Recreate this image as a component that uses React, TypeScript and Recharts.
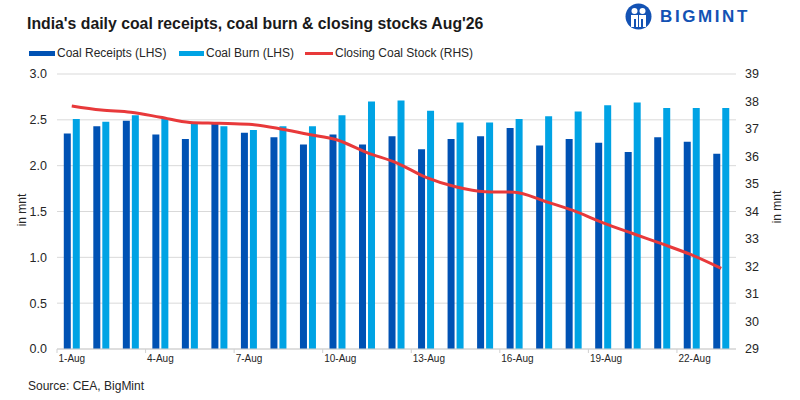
import { ComposedChart, Bar, Line, XAxis, YAxis, CartesianGrid } from 'recharts'

const categories = [
  '1-Aug', '2-Aug', '3-Aug', '4-Aug', '5-Aug', '6-Aug', '7-Aug', '8-Aug', '9-Aug', '10-Aug', '11-Aug', '12-Aug',
  '13-Aug', '14-Aug', '15-Aug', '16-Aug', '17-Aug', '18-Aug', '19-Aug', '20-Aug', '21-Aug', '22-Aug', '23-Aug',
]
const coalReceipts = [
  2.35, 2.43, 2.49, 2.34, 2.29, 2.46, 2.36, 2.31, 2.23, 2.34, 2.23, 2.32,
  2.18, 2.29, 2.32, 2.41, 2.22, 2.29, 2.25, 2.15, 2.31, 2.26, 2.13,
]
const coalBurn = [
  2.51, 2.48, 2.55, 2.52, 2.47, 2.43, 2.39, 2.43, 2.43, 2.55, 2.7, 2.71,
  2.6, 2.47, 2.47, 2.51, 2.54, 2.59, 2.66, 2.69, 2.63, 2.63, 2.63,
]
const closingStock = [
  37.84, 37.69, 37.61, 37.43, 37.24, 37.21, 37.17, 37.02, 36.81, 36.6, 36.14, 35.77,
  35.24, 34.9, 34.72, 34.7, 34.38, 34.03, 33.59, 33.2, 32.82, 32.42, 31.93,
]
const leftTicks = [0, 0.5, 1, 1.5, 2, 2.5, 3]
const rightTicks = [29, 30, 31, 32, 33, 34, 35, 36, 37, 38, 39]

const data = categories.map((day, i) => ({
  day,
  receipts: coalReceipts[i],
  burn: coalBurn[i],
  stock: closingStock[i],
}))

const DARK = '#0052b4'
const LIGHT = '#00a3e4'
const RED = '#e8393a'
const TEXT = '#262626'
const SANS = '"Liberation Sans", Arial, sans-serif'

const PLOT_LEFT = 57
const PLOT_RIGHT = 736
const BAND = (PLOT_RIGHT - PLOT_LEFT) / categories.length

// Excel-style: tick mark on the category's left edge, label just right of it
function DayTick({ x, y, payload }: any) {
  const left = x - BAND / 2
  return (
    <g>
      <line x1={left} x2={left} y1={y} y2={y + 4} stroke="#d0d0d0" />
      <text x={left + 1.5} y={y + 13} fontSize={10} fontFamily={SANS} fill={TEXT}>
        {payload.value}
      </text>
    </g>
  )
}

const legendItems = [
  { name: 'Coal Receipts (LHS)', color: DARK, w: 26, h: 5, left: 29 },
  { name: 'Coal Burn (LHS)', color: LIGHT, w: 25, h: 5, left: 179 },
  { name: 'Closing Coal Stock (RHS)', color: RED, w: 28, h: 3, left: 305 },
]

function Logo() {
  return (
    <div style={{ position: 'absolute', left: 625, top: 3, display: 'flex', alignItems: 'center' }}>
      <svg width={27} height={27} viewBox="0 0 27 27">
        <circle cx={13.5} cy={13.5} r={13} fill="#1352b4" />
        <circle cx={9.5} cy={8} r={3} fill="#fff" />
        <circle cx={17.5} cy={8} r={3} fill="#fff" />
        <path d="M6 12 h7 v12 h-2 v-8 h-2 v8 h-3 z" fill="#fff" />
        <path d="M14 12 h7 v12 h-3 v-8 h-2 v8 h-2 z" fill="#fff" />
      </svg>
      <span
        style={{
          marginLeft: 8,
          fontFamily: SANS,
          fontWeight: 700,
          fontSize: 17,
          letterSpacing: 2.6,
          color: '#1352b4',
        }}
      >
        BIGMINT
      </span>
    </div>
  )
}

const axisTitle = {
  position: 'absolute' as const,
  transform: 'translate(-50%, -50%) rotate(-90deg)',
  fontFamily: SANS,
  fontSize: 12,
  color: TEXT,
  whiteSpace: 'nowrap' as const,
}

export default function App() {
  return (
    <div style={{ position: 'absolute', left: 0, top: 0, width: 800, height: 400, background: '#fff', overflow: 'hidden' }}>
      <div
        style={{
          position: 'absolute',
          left: 27,
          top: 15,
          fontFamily: SANS,
          fontSize: 15.8,
          fontWeight: 700,
          color: '#1a1a1a',
          whiteSpace: 'nowrap',
        }}
      >
        India's daily coal receipts, coal burn &amp; closing stocks Aug'26
      </div>
      <Logo />
      {legendItems.map((it) => (
        <div
          key={it.name}
          style={{ position: 'absolute', left: it.left, top: 45, height: 16, display: 'flex', alignItems: 'center' }}
        >
          <span style={{ display: 'inline-block', width: it.w, height: it.h, background: it.color, marginRight: 2 }} />
          <span style={{ fontFamily: SANS, fontSize: 12, color: TEXT, whiteSpace: 'nowrap' }}>{it.name}</span>
        </div>
      ))}
      <div style={{ ...axisTitle, left: 22, top: 210 }}>in mnt</div>
      <div style={{ ...axisTitle, left: 777, top: 207 }}>in mnt</div>
      <div style={{ position: 'absolute', left: 28, top: 379, fontFamily: SANS, fontSize: 12, color: TEXT }}>
        Source: CEA, BigMint
      </div>
      <div style={{ position: 'absolute', left: 0, top: 0 }}>
        <ComposedChart
          width={800}
          height={400}
          data={data}
          margin={{ top: 74, right: 0, bottom: 31, left: 0 }}
          barCategoryGap="23%"
          barGap={2}
        >
          <CartesianGrid yAxisId="left" vertical={false} stroke="#d9d9d9" />
          <XAxis
            dataKey="day"
            interval={2}
            tickLine={false}
            tickSize={0}
            tickMargin={0}
            axisLine={{ stroke: '#d0d0d0' }}
            tick={<DayTick />}
            height={20}
          />
          <YAxis
            yAxisId="left"
            domain={[0, 3]}
            ticks={leftTicks}
            tickFormatter={(v: number) => v.toFixed(1)}
            width={PLOT_LEFT}
            axisLine={false}
            tickLine={false}
            tickSize={0}
            tickMargin={10}
            tick={{ fill: TEXT, fontSize: 12.5, fontFamily: SANS }}
          />
          <YAxis
            yAxisId="right"
            orientation="right"
            domain={[29, 39]}
            ticks={rightTicks}
            width={800 - PLOT_RIGHT}
            axisLine={false}
            tickLine={false}
            tickSize={0}
            tickMargin={9}
            tick={{ fill: TEXT, fontSize: 12.5, fontFamily: SANS }}
          />
          <Bar yAxisId="left" dataKey="receipts" name="Coal Receipts (LHS)" fill={DARK} isAnimationActive={false} />
          <Bar yAxisId="left" dataKey="burn" name="Coal Burn (LHS)" fill={LIGHT} isAnimationActive={false} />
          <Line
            yAxisId="right"
            type="monotone"
            dataKey="stock"
            name="Closing Coal Stock (RHS)"
            stroke={RED}
            strokeWidth={3}
            dot={false}
            isAnimationActive={false}
          />
        </ComposedChart>
      </div>
    </div>
  )
}
